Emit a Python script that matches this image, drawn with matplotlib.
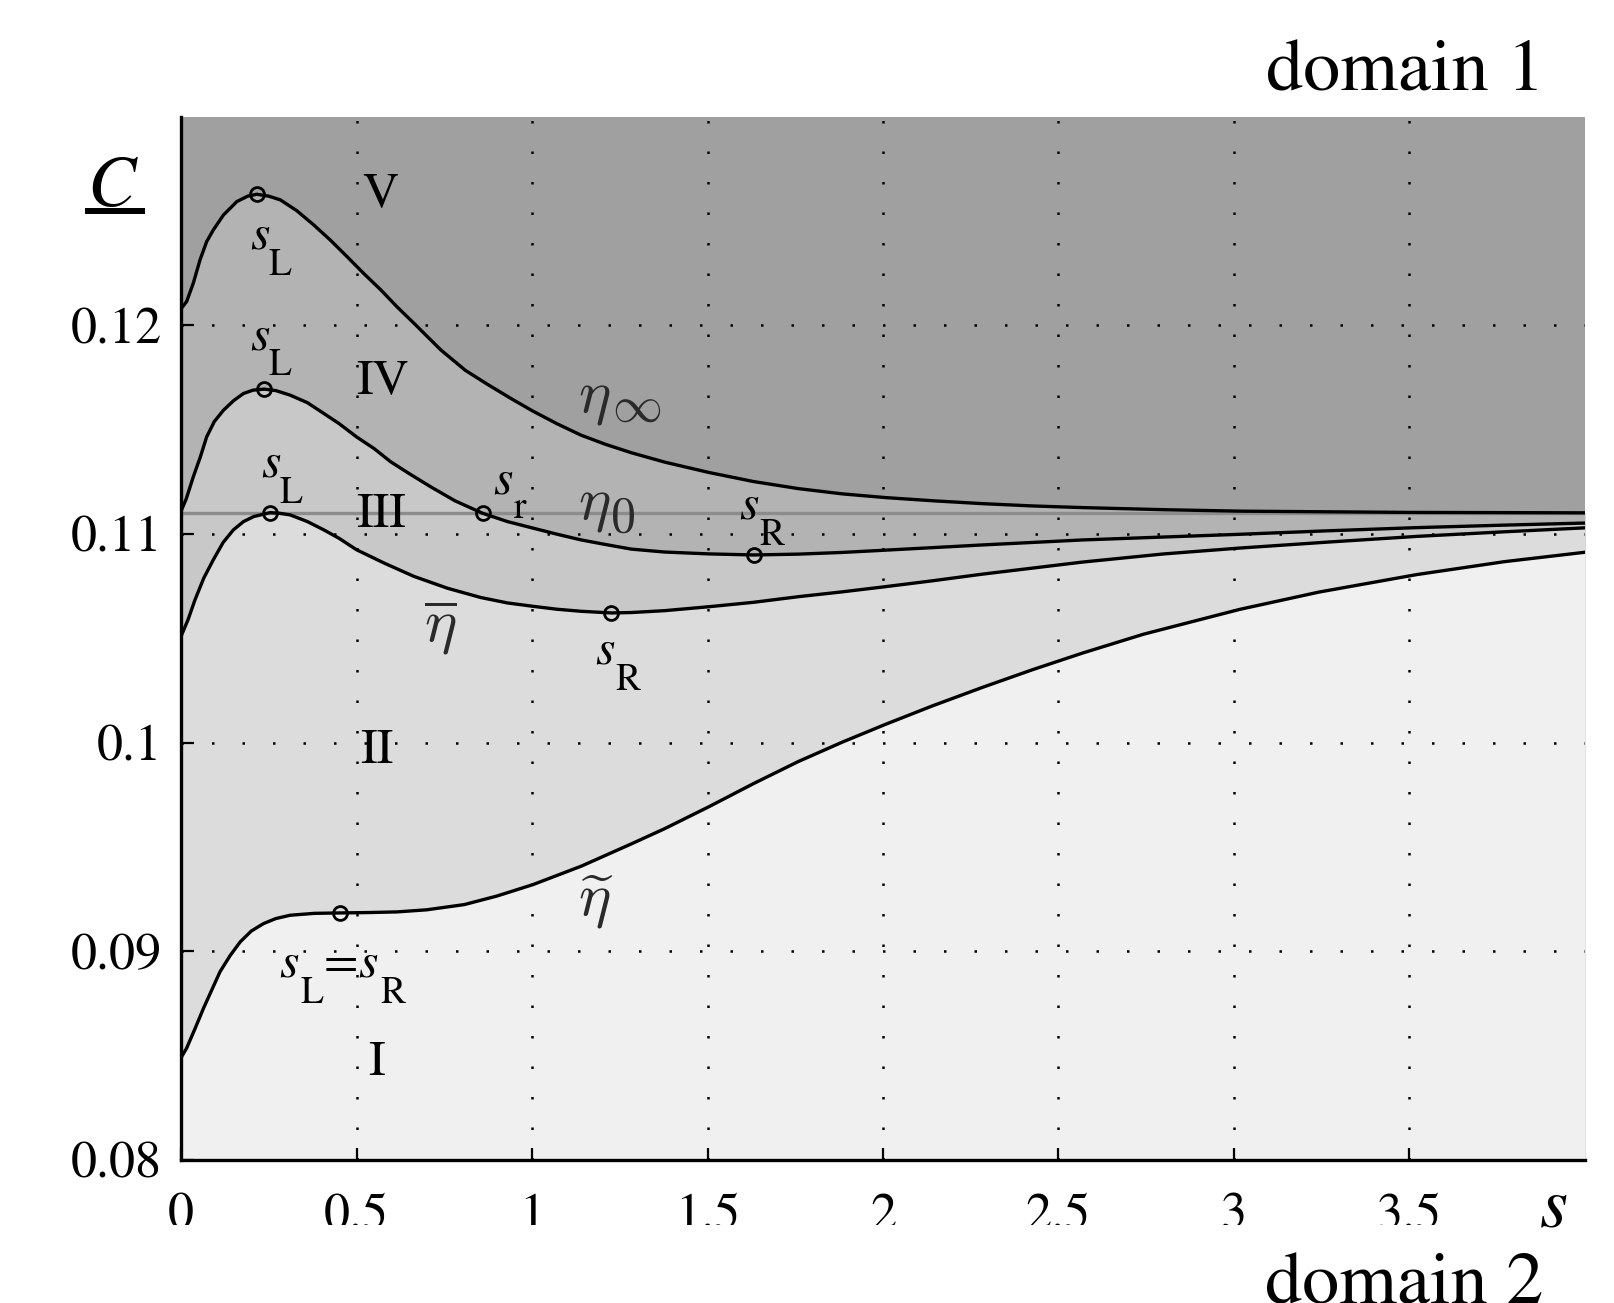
import matplotlib
matplotlib.use("Agg")
import matplotlib.pyplot as plt
from matplotlib.patches import Rectangle
from matplotlib.lines import Line2D

plt.rcParams["font.family"] = "STIXGeneral"
plt.rcParams["mathtext.fontset"] = "stix"

# curve eta_infinity (upper boundary, region V above)
s_inf = [0, 0.016, 0.035, 0.054, 0.073, 0.092, 0.121, 0.159, 0.19, 0.216,
         0.25, 0.283, 0.33, 0.378, 0.425, 0.473, 0.52, 0.569, 0.615, 0.664,
         0.74, 0.81, 0.873, 0.94, 1.002, 1.07, 1.14, 1.21, 1.283, 1.378,
         1.505, 1.631, 1.759, 1.883, 2.007, 2.14, 2.283, 2.426, 2.569, 2.8,
         3.016, 3.5, 4.0]
c_inf = [0.1208, 0.12115, 0.12203, 0.12314, 0.12402, 0.12458, 0.1253, 0.12594,
         0.1262, 0.12629, 0.1262, 0.12602, 0.1255, 0.12482, 0.1241, 0.1233,
         0.1225, 0.12171, 0.1209, 0.1201, 0.11883, 0.11785, 0.11718, 0.1165,
         0.1159, 0.1153, 0.11474, 0.1143, 0.1139, 0.11345, 0.11295, 0.11252,
         0.11218, 0.11193, 0.11175, 0.1116, 0.11146, 0.11135, 0.11127, 0.11117,
         0.1111, 0.11104, 0.11102]

# middle curve (s_L, s_r, s_R)
s_mid = [0, 0.015, 0.035, 0.055, 0.073, 0.095, 0.121, 0.15, 0.178, 0.205,
         0.237, 0.27, 0.311, 0.36, 0.407, 0.45, 0.5, 0.55, 0.597, 0.65, 0.711,
         0.78, 0.859, 0.93, 1.002, 1.07, 1.14, 1.21, 1.283, 1.378, 1.505,
         1.633, 1.759, 1.883, 2.007, 2.14, 2.283, 2.426, 2.569, 2.8, 3.016,
         3.27, 3.521, 3.77, 4.0]
c_mid = [0.1111, 0.1117, 0.11275, 0.1137, 0.11466, 0.1154, 0.11594, 0.1164,
         0.11674, 0.1169, 0.11695, 0.11688, 0.11666, 0.1163, 0.11578, 0.1153,
         0.11466, 0.1141, 0.11347, 0.1129, 0.11227, 0.1116, 0.1110, 0.1106,
         0.11029, 0.1100, 0.10972, 0.1095, 0.10928, 0.10914, 0.10905, 0.10900,
         0.10904, 0.10912, 0.10923, 0.10935, 0.10948, 0.1096, 0.10972, 0.10986,
         0.10999, 0.11016, 0.11031, 0.11043, 0.11053]

# eta bar
s_bar = [0, 0.02, 0.04, 0.065, 0.092, 0.12, 0.149, 0.178, 0.207, 0.254, 0.28,
         0.311, 0.36, 0.407, 0.45, 0.5, 0.58, 0.664, 0.76, 0.854, 0.93, 1.002,
         1.07, 1.14, 1.226, 1.283, 1.378, 1.505, 1.631, 1.759, 1.883, 2.007,
         2.14, 2.283, 2.426, 2.569, 2.8, 3.016, 3.27, 3.521, 3.77, 4.0]
c_bar = [0.1051, 0.1059, 0.10686, 0.1079, 0.10877, 0.1096, 0.1102, 0.1106,
         0.11084, 0.11103, 0.111, 0.11092, 0.1106, 0.1102, 0.1098, 0.10925,
         0.1086, 0.10797, 0.1074, 0.10696, 0.1067, 0.10654, 0.1064, 0.1063,
         0.10622, 0.10624, 0.10633, 0.10652, 0.10673, 0.107, 0.10723, 0.10748,
         0.10776, 0.10808, 0.10837, 0.10866, 0.10905, 0.10933, 0.10962,
         0.10989, 0.11011, 0.1103]

# eta tilde
s_til = [0, 0.016, 0.04, 0.064, 0.111, 0.14, 0.169, 0.2, 0.235, 0.27, 0.311,
         0.38, 0.454, 0.54, 0.616, 0.7, 0.807, 0.9, 1.003, 1.14, 1.283, 1.378,
         1.505, 1.631, 1.759, 1.883, 2.007, 2.14, 2.283, 2.426, 2.569, 2.742,
         3.016, 3.242, 3.521, 3.771, 4.0]
c_til = [0.0849, 0.08536, 0.0863, 0.08727, 0.08902, 0.0898, 0.09046, 0.09097,
         0.09133, 0.09157, 0.09173, 0.09182, 0.09184, 0.09186, 0.09189,
         0.09199, 0.09224, 0.09265, 0.0932, 0.09408, 0.09515, 0.09588, 0.09694,
         0.09804, 0.0991, 0.10002, 0.10088, 0.10176, 0.10265, 0.1035, 0.1043,
         0.1052, 0.10639, 0.10722, 0.10806, 0.10868, 0.10913]

eta0 = 0.111

# marked points s_L, s_r, s_R
s_marks = [0.216, 0.237, 0.859, 1.633, 0.254, 1.226, 0.454]
c_marks = [0.12629, 0.11695, 0.1110, 0.10900, 0.11103, 0.10622, 0.09184]

x_ticks = [0, 0.5, 1, 1.5, 2, 2.5, 3, 3.5]
x_tick_labels = ["0", "0.5", "1", "1.5", "2", "2.5", "3", "3.5"]
y_ticks = [0.08, 0.09, 0.1, 0.11, 0.12]
y_tick_labels = ["0.08", "0.09", "0.1", "0.11", "0.12"]

region_colors = ["#a0a0a0", "#b3b3b3", "#c8c8c8", "#dcdcdc", "#f0f0f0"]
ETA_COLOR = "#2a2a2a"


def sub_label(axes, x, y, main, sub, dx, dy, size=36, subsize=27):
    """italic symbol with a roman subscript hanging below it"""
    axes.text(x, y, main, ha="center", va="baseline", fontsize=size,
              style="italic", zorder=5)
    axes.annotate(sub, (x, y), xytext=(dx, dy), textcoords="offset points",
                  ha="center", va="baseline", fontsize=subsize, zorder=5)


fig = plt.figure(figsize=(16.15, 13.03), dpi=100)
ax = fig.add_axes([0.1121, 0.1098, 0.8693, 0.8005])
ax.set_xlim(0, 4)
ax.set_ylim(0.08, 0.13)
ax.set_facecolor(region_colors[0])

curves = [(s_inf, c_inf), (s_mid, c_mid), (s_bar, c_bar), (s_til, c_til)]
y_floor = ax.get_ylim()[0]
for (xs, ys), col in zip(curves, region_colors[1:]):
    ax.fill_between(xs, ys, y_floor, color=col, lw=0, zorder=1)

ax.axhline(eta0, color="#8c8c8c", lw=2.4, zorder=1.8)
for xs, ys in curves:
    ax.plot(xs, ys, color="k", lw=2.4, zorder=3, solid_joinstyle="round")
ax.plot(s_marks, c_marks, "o", ms=10, mfc="none", mec="k", mew=2, zorder=4)

ax.set_axisbelow("line")
ax.grid(True, color="k", linestyle=(0, (1, 11.2)), lw=1.8)

ax.set_xticks(x_ticks)
ax.set_xticklabels(x_tick_labels, fontsize=37.5)
ax.set_yticks(y_ticks)
ax.set_yticklabels(y_tick_labels, fontsize=37.5)
ax.tick_params(axis="x", direction="in", length=9, width=1.6, pad=24)
ax.tick_params(axis="y", direction="in", length=9, width=1.6, pad=14)
for side in ["top", "right"]:
    ax.spines[side].set_visible(False)
for side in ["left", "bottom"]:
    ax.spines[side].set_linewidth(2.4)

# region names
for name, x, y in [("V", 0.569, 0.1257), ("IV", 0.573, 0.11675),
                   ("III", 0.569, 0.11036), ("II", 0.559, 0.09902),
                   ("I", 0.557, 0.08406)]:
    ax.text(x, y, name, ha="center", va="baseline", fontsize=36, zorder=5)

# point labels
sub_label(ax, 0.226, 0.12371, "s", "L", 14.4, -19.2)
sub_label(ax, 0.226, 0.11883, "s", "L", 14.4, -18.0)
sub_label(ax, 0.2557, 0.11276, "s", "L", 14.4, -19.2)
sub_label(ax, 0.9186, 0.11196, "s", "r", 11.9, -18.0)
sub_label(ax, 1.6186, 0.11076, "s", "R", 16.6, -19.2)
sub_label(ax, 1.209, 0.10381, "s", "R", 16.4, -19.0)
sub_label(ax, 0.3066, 0.08879, "s", "L", 16.8, -19.2)
ax.text(0.454, 0.08879, "=", ha="center", va="baseline", fontsize=36, zorder=5)
sub_label(ax, 0.5329, 0.08879, "s", "R", 18.0, -19.2)

# curve names
ax.text(1.178, 0.11588, r"$\eta$", math_fontfamily="cm", fontsize=44,
        ha="center", va="baseline", color=ETA_COLOR, zorder=5)
ax.text(1.297, 0.1154, r"$\infty$", math_fontfamily="cm", fontsize=36,
        ha="center", va="baseline", color=ETA_COLOR, zorder=5)
ax.text(1.178, 0.11076, r"$\eta$", math_fontfamily="cm", fontsize=44,
        ha="center", va="baseline", color=ETA_COLOR, zorder=5)
ax.text(1.259, 0.11012, r"$0$", math_fontfamily="cm", fontsize=36,
        ha="center", va="baseline", color=ETA_COLOR, zorder=5)
ax.text(0.737, 0.10485, r"$\overline{\eta}$", math_fontfamily="cm",
        fontsize=44, ha="center", va="baseline", color=ETA_COLOR, zorder=5)
ax.text(1.183, 0.09174, r"$\widetilde{\eta}$", math_fontfamily="cm",
        fontsize=44, ha="center", va="baseline", color=ETA_COLOR, zorder=5)

# axis names and domain captions
fig.text(0.0688, 0.8427, "C", style="italic", fontsize=52, ha="center",
         va="baseline")
fig.add_artist(Line2D([0.0545, 0.0879], [0.8381, 0.8381], color="k", lw=4.3,
                      transform=fig.transFigure))
fig.text(0.9622, 0.0591, "s", style="italic", fontsize=52, ha="center",
         va="baseline", zorder=7)
fig.text(0.9565, 0.9305, "domain 1", fontsize=53.5, ha="right",
         va="baseline")

# the original tick labels are cut off at their bottom edge
fig.patches.append(Rectangle((0, 0.0391), 1, 0.0208,
                             transform=fig.transFigure, facecolor="white",
                             edgecolor="none", zorder=5))
fig.text(0.9555, 0.0, "domain 2", fontsize=53.5, ha="right", va="baseline",
         zorder=6)

fig.savefig("out.png", dpi=100)
